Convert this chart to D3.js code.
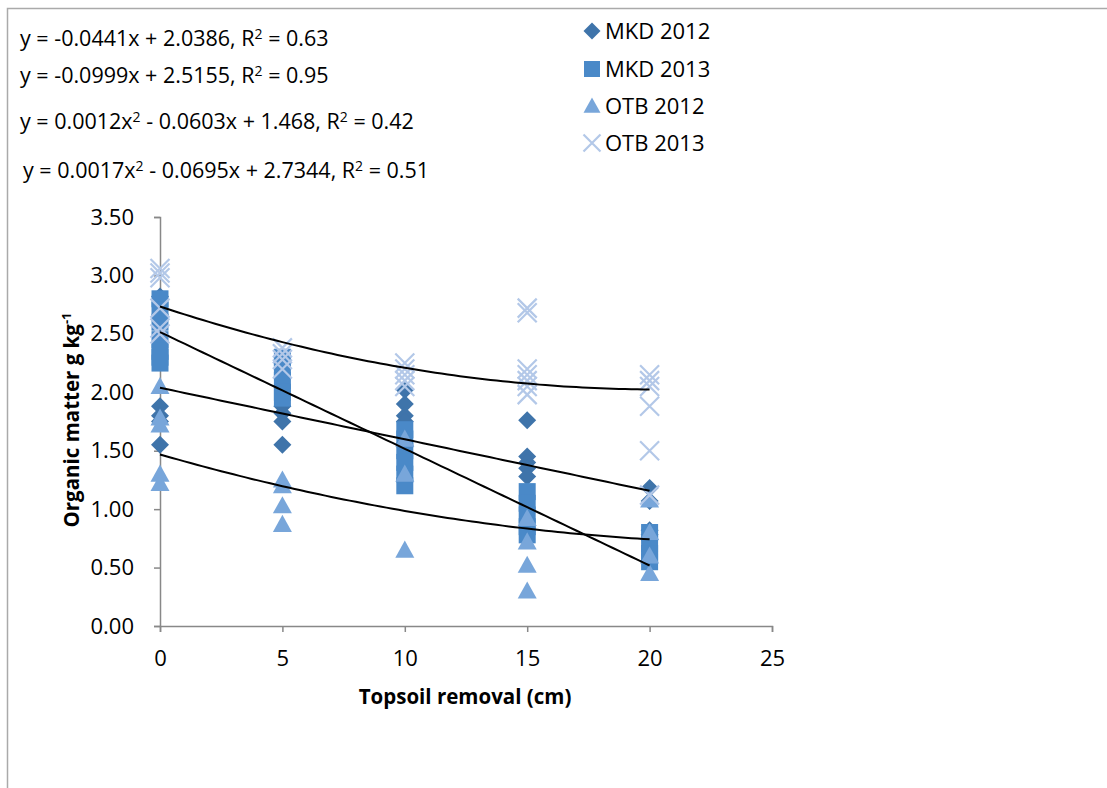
<!DOCTYPE html>
<html><head><meta charset="utf-8">
<script src="https://cdn.jsdelivr.net/npm/d3@7"></script>
<style>body{margin:0;background:#fff}svg{display:block}text{font-family:"Open Sans",sans-serif}</style>
</head><body><svg id="c" width="1107" height="788"></svg>
<script>
const seriesNames = ["MKD 2012","MKD 2013","OTB 2012","OTB 2013"];
const mkd2012X = [0,0,0,0,0,0, 5,5,5,5, 10,10,10,10, 15,15,15,15,15, 20,20,20,20];
const mkd2012Y = [2.82,2.65,1.88,1.80,1.75,1.55, 1.88,1.82,1.75,1.55, 2.02,1.90,1.80,1.75, 1.76,1.45,1.40,1.35,1.28, 1.18,1.07,0.82,0.78];
const mkd2013X = [0,0,0,0,0,0,0, 5,5,5,5,5, 10,10,10,10,10,10, 15,15,15,15,15, 20,20,20,20];
const mkd2013Y = [2.80,2.70,2.60,2.45,2.35,2.30,2.25, 2.30,2.20,2.10,2.00,1.95, 1.68,1.60,1.50,1.40,1.30,1.20, 1.15,1.05,0.95,0.85,0.78, 0.80,0.70,0.62,0.55];
const otb2012X = [0,0,0,0,0, 5,5,5,5, 10,10,10, 15,15,15,15, 20,20,20,20];
const otb2012Y = [2.05,1.78,1.72,1.30,1.22, 1.25,1.20,1.03,0.87, 1.60,1.30,0.65, 0.92,0.72,0.52,0.30, 1.08,0.80,0.60,0.45];
const otb2013X = [0,0,0,0,0,0, 5,5,5,5, 10,10,10,10,10, 15,15,15,15,15,15,15, 20,20,20,20,20,20];
const otb2013Y = [3.06,3.02,2.98,2.72,2.55,2.50, 2.38,2.33,2.28,2.20, 2.25,2.20,2.15,2.10,2.05, 2.72,2.68,2.20,2.15,2.10,2.05,1.98, 2.15,2.10,2.05,1.88,1.50,1.12];
// trendline coefficients [a2, a1, a0] as shown in the chart equations
const trendCoefs = [[0,-0.0441,2.0386],[0,-0.0999,2.5155],[0.0012,-0.0603,1.468],[0.0017,-0.0695,2.7344]];
const equationTexts = ["y = -0.0441x + 2.0386, R² = 0.63","y = -0.0999x + 2.5155, R² = 0.95","y = 0.0012x² - 0.0603x + 1.468, R² = 0.42","y = 0.0017x² - 0.0695x + 2.7344, R² = 0.51"];
const xTicks = [0,5,10,15,20,25];
const yTicks = [0,0.5,1,1.5,2,2.5,3,3.5];
const xTitle = "Topsoil removal (cm)";
const yTitle = "Organic matter g kg";

const colors = ["#3f74aa","#4a89c8","#78a6da","#b3c8e8"];
const svg = d3.select("#c");
svg.append("path").attr("d","M7.5,788 V8.5 H1107").attr("fill","none").attr("stroke","#aaa").attr("stroke-width",1.5);

const x = d3.scaleLinear().domain([0,25]).range([160,772]);
const y = d3.scaleLinear().domain([0,3.5]).range([626,217]);

const yAxis = svg.append("g").attr("transform","translate(160,0)")
  .call(d3.axisLeft(y).tickValues(yTicks).tickFormat(d3.format(".2f")).tickSize(6).tickPadding(20));
const xAxis = svg.append("g").attr("transform","translate(0,626)")
  .call(d3.axisBottom(x).tickValues(xTicks).tickFormat(d3.format("d")).tickSize(6).tickPadding(18));
[xAxis,yAxis].forEach(g=>{
  g.select(".domain").attr("stroke","#888").attr("stroke-width",1.5);
  g.selectAll(".tick line").attr("stroke","#888").attr("stroke-width",1.5);
  g.selectAll("text").attr("font-size",22).attr("fill","#000").style("font-family","'Open Sans', sans-serif");
});

const sets = [[mkd2012X,mkd2012Y],[mkd2013X,mkd2013Y],[otb2012X,otb2012Y],[otb2013X,otb2013Y]];
function marker(g, i, cx, cy, s){
  if(i===0){ g.append("path").attr("d",`M${cx},${cy-s} L${cx+s},${cy} L${cx},${cy+s} L${cx-s},${cy} Z`).attr("fill",colors[0]); }
  else if(i===1){ g.append("rect").attr("x",cx-s).attr("y",cy-s).attr("width",2*s).attr("height",2*s).attr("fill",colors[1]); }
  else if(i===2){ g.append("path").attr("d",`M${cx},${cy-s} L${cx+s},${cy+s*0.8} L${cx-s},${cy+s*0.8} Z`).attr("fill",colors[2]); }
  else { g.append("path").attr("d",`M${cx-s},${cy-s} L${cx+s},${cy+s} M${cx+s},${cy-s} L${cx-s},${cy+s}`).attr("stroke",colors[3]).attr("stroke-width",2.2).attr("fill","none"); }
}
const sizes = [9,8.5,9.5,9.5];
const pts = svg.append("g");
sets.forEach(([xs,ys],i)=>{
  xs.forEach((xv,k)=> marker(pts, i, x(xv), y(ys[k]), sizes[i]));
});

const line = d3.line().x(d=>x(d[0])).y(d=>y(d[1]));
trendCoefs.forEach(c=>{
  const pts2 = d3.range(0,20.01,0.25).map(t=>[t, c[0]*t*t + c[1]*t + c[2]]);
  svg.append("path").attr("d",line(pts2)).attr("fill","none").attr("stroke","#000").attr("stroke-width",2);
});

const eqPos = [[20,46],[20,83],[20,129],[23,178]];
equationTexts.forEach((t,i)=>{
  const txt = svg.append("text").attr("x",eqPos[i][0]).attr("y",eqPos[i][1]).attr("font-size",21.5).attr("fill","#000");
  const parts = t.split("²");
  parts.forEach((p,j)=>{
    const sp = txt.append("tspan").text(p);
    if(j>0) sp.attr("dy",7);
    if(j<parts.length-1) txt.append("tspan").attr("dy",-7).attr("font-size",14).text("2");
  });
});

const legY = [31,69,106,143];
seriesNames.forEach((n,i)=>{
  marker(svg, i, 592, legY[i], i===1?8:8.5);
  svg.append("text").attr("x",605).attr("y",legY[i]+8).attr("font-size",22).attr("fill","#000").text(n);
});

svg.append("text").attr("x",465).attr("y",704).attr("text-anchor","middle").attr("font-size",20.5).attr("font-weight","bold").text(xTitle);
const yt = svg.append("text").attr("transform","translate(79,420) rotate(-90)").attr("text-anchor","middle").attr("font-size",20.5).attr("font-weight","bold");
yt.append("tspan").text(yTitle);
yt.append("tspan").attr("dy",-8).attr("font-size",13).text("-1");
</script></body></html>
